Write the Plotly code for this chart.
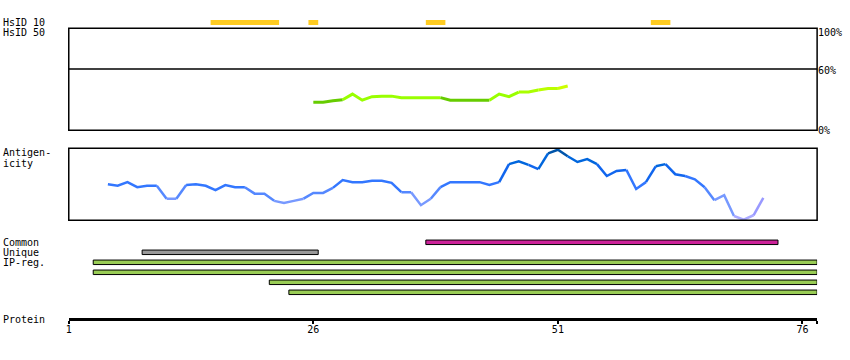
import plotly.graph_objects as go

# ---------------- data ----------------
hsid10_start = [16, 26, 38, 61]
hsid10_end = [22, 26, 39, 62]

hsid50_res = list(range(26, 53))
hsid50_val = [27.5, 27.5, 29, 30, 35.5, 29.5, 33, 33.5, 33.5, 32, 32, 32, 32, 32,
              29.5, 29.5, 29.5, 29.5, 29.5, 35.5, 33, 37.5, 37.5, 39.5, 41, 41, 43.5]

antig_res = list(range(5, 73))
antig_val = [50, 48, 53, 46, 48, 48, 30, 30, 49, 50, 48, 42, 49, 46, 46, 37, 37, 27, 24, 27,
             30, 38, 38, 45, 56, 53, 53, 55, 55, 52, 39, 39, 21, 30, 46, 53, 53, 53, 53, 49,
             53, 78, 82, 77, 71, 93, 98, 89, 81, 85, 78, 61.5, 68.5, 70, 43.5, 53, 75, 78, 64,
             61.5, 57, 46, 28, 35, 6, 1, 7, 31]

feat_labels = ["Common", "Unique", "IP-reg.", "", "", ""]
feat_start = [38, 9, 4, 4, 22, 24]
feat_end = [73, 26, 77, 77, 77, 77]
feat_kind = ["common", "unique", "ip", "ip", "ip", "ip"]

protein_len = 77
tick_vals = [1, 26, 51, 76]
tick_text = ["1", "26", "51", "76"]

# ---------------- styles ----------------
W, H = 850, 360
X0, X1 = 66, 817
FONT = "DejaVu Sans Mono"
kind_color = {"common": "#cc2299", "unique": "#999999", "ip": "#99cc55"}


def pyfrac(px):
    return 1 - px / H


def green_color(v):
    if v < 31:
        return "#66cc00"
    if v < 36:
        return "#99ff00"
    if v < 40:
        return "#aaff00"
    if v < 42:
        return "#bbff00"
    return "#ccff00"


def blue_color(v):
    if v < 10:
        return "#aaaaff"
    if v < 20:
        return "#9999ff"
    if v < 32:
        return "#7799ff"
    if v < 42:
        return "#5588ff"
    if v < 60:
        return "#3377ff"
    if v < 75:
        return "#1166ee"
    if v < 88:
        return "#0066dd"
    return "#0055aa"


fig = go.Figure()


def add_colored(xs, ys, cfn, yref, width):
    cols = [cfn((ys[i] + ys[i + 1]) / 2) for i in range(len(xs) - 1)]
    i = 0
    while i < len(cols):
        j = i
        while j + 1 < len(cols) and cols[j + 1] == cols[i]:
            j += 1
        fig.add_trace(go.Scatter(x=xs[i:j + 2], y=ys[i:j + 2], mode="lines",
                                 line=dict(color=cols[i], width=width),
                                 yaxis=yref, xaxis="x", hoverinfo="skip"))
        i = j + 1


# HsID 10 strip
for s, e in zip(hsid10_start, hsid10_end):
    fig.add_trace(go.Scatter(x=[s - 0.5, e + 0.5], y=[0.5, 0.5], mode="lines",
                             line=dict(color="#ffcc22", width=5),
                             yaxis="y", xaxis="x", hoverinfo="skip"))

# HsID 50 line
add_colored(hsid50_res, hsid50_val, green_color, "y2", 3)

# Antigenicity line
add_colored(antig_res, antig_val, blue_color, "y3", 2.5)

# Feature bars
for i, (s, e, k) in enumerate(zip(feat_start, feat_end, feat_kind)):
    fig.add_trace(go.Bar(x=[e - s + 1], base=[s - 0.5], y=[i], orientation="h",
                         width=0.45, marker=dict(color=kind_color[k],
                                                 line=dict(color="black", width=1)),
                         yaxis="y4", xaxis="x", hoverinfo="skip"))

# panel frames
for yr in ["y2", "y3"]:
    fig.add_shape(type="rect", xref="x domain", yref=yr + " domain",
                  x0=0, x1=1, y0=0, y1=1, line=dict(color="black", width=1.5))
fig.add_shape(type="line", xref="x domain", yref="y2", x0=0, x1=1, y0=60, y1=60,
              line=dict(color="black", width=1.5))

ann = []


def label(text, px, py, anchor="left"):
    ann.append(dict(text=text, x=px / W, y=pyfrac(py), xref="paper", yref="paper",
                    xanchor=anchor, yanchor="middle", showarrow=False,
                    font=dict(family=FONT, size=10, color="black")))


LX = -2
label("HsID 10", LX, 22.5)
label("HsID 50", LX, 32.5)
label("Antigen-", LX, 152.5)
label("icity", LX, 163.5)
for i, t in enumerate(feat_labels):
    if t:
        label(t, LX, 242.5 + 10 * i)
label("Protein", LX, 319.5)
label("100%", 816, 32.5)
label("60%", 816, 70.5)
label("0%", 816, 130.5)

fig.update_layout(
    width=W, height=H, margin=dict(l=0, r=0, t=0, b=0),
    paper_bgcolor="white", plot_bgcolor="white", showlegend=False,
    barmode="overlay", annotations=ann,
    xaxis=dict(domain=[X0 / W, X1 / W], range=[1, protein_len + 0.5],
               anchor="free", position=pyfrac(319.3),
               showline=True, linewidth=3, linecolor="black",
               ticks="", tickvals=tick_vals, ticktext=tick_text,
               minor=dict(ticks="outside", ticklen=3, tickwidth=2, tickcolor="black",
                          tickvals=tick_vals + [protein_len + 0.5], showgrid=False),
               tickfont=dict(family=FONT, size=10, color="black"),
               showgrid=False, zeroline=False),
    yaxis=dict(domain=[pyfrac(27), pyfrac(18)], range=[0, 1], visible=False,
               anchor="x"),
    yaxis2=dict(domain=[pyfrac(130.3), pyfrac(28.3)], range=[0, 100], visible=False,
                anchor="x"),
    yaxis3=dict(domain=[pyfrac(220.3), pyfrac(148.3)], range=[0, 100], visible=False,
                anchor="x"),
    yaxis4=dict(domain=[pyfrac(297.3), pyfrac(237.3)], range=[5.5, -0.5], visible=False,
                anchor="x"),
)

fig.write_html("out.html", config={"displayModeBar": False},
               post_script="document.body.style.margin='0';")
